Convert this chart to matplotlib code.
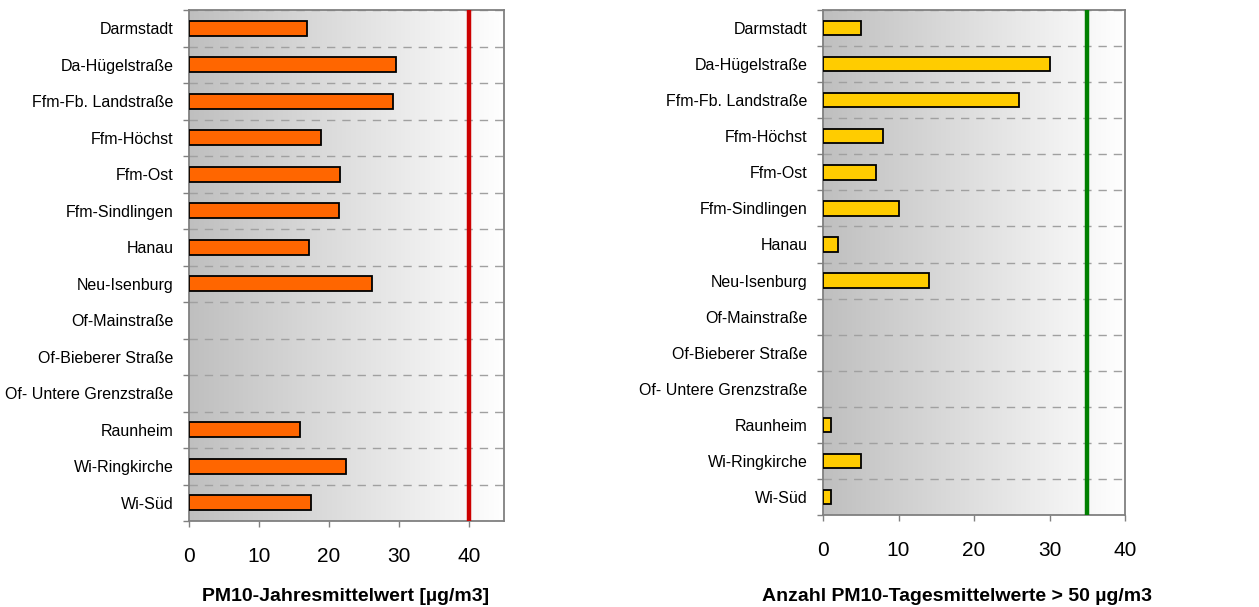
import numpy as np
import matplotlib
matplotlib.use('Agg')
import matplotlib.pyplot as plt
from matplotlib.colors import LinearSegmentedColormap

plt.rcParams['font.family'] = ['Liberation Sans', 'DejaVu Sans']

## Data
stations = ['Darmstadt', 'Da-Hügelstraße', 'Ffm-Fb. Landstraße', 'Ffm-Höchst',
            'Ffm-Ost', 'Ffm-Sindlingen', 'Hanau', 'Neu-Isenburg',
            'Of-Mainstraße', 'Of-Bieberer Straße', 'Of- Untere Grenzstraße',
            'Raunheim', 'Wi-Ringkirche', 'Wi-Süd']
# annual mean PM10 (NaN = no measurement)
annual_mean = [16.9, 29.6, 29.1, 18.9, 21.6, 21.4, 17.2, 26.1,
               np.nan, np.nan, np.nan, 15.9, 22.4, 17.4]
# number of daily means > 50
exceed_days = [5, 30, 26, 8, 7, 10, 2, 14,
               np.nan, np.nan, np.nan, 1, 5, 1]
limit_annual = 40
limit_days = 35

xticks_left = [0, 10, 20, 30, 40]
xticks_right = [0, 10, 20, 30, 40]
xlabel_left = 'PM10-Jahresmittelwert [µg/m3]'
xlabel_right = 'Anzahl PM10-Tagesmittelwerte > 50 µg/m3'

## Figure
W, H = 1259, 607
fig = plt.figure(figsize=(W/100, H/100), dpi=100)
ax1 = fig.add_axes([189/W, 1-521/H, (504-189)/W, (521-10)/H])
ax2 = fig.add_axes([823/W, 1-515/H, (1125-823)/W, (515-10)/H])

grad = LinearSegmentedColormap.from_list('bg', ['#bfbfbf', '#ffffff'])
ypos = np.arange(len(stations))


def draw_panel(ax, vals, color, xmax, limit, lcolor, xticks):
    ax.imshow(np.linspace(0, 1, 256).reshape(1, -1), cmap=grad, aspect='auto',
              extent=[0, xmax, len(stations)-0.5, -0.5], zorder=0)
    arr = np.array(vals, dtype=float)
    mask = ~np.isnan(arr)
    ax.barh(ypos[mask], arr[mask], height=0.4, color=color, edgecolor='black',
            linewidth=1.3, zorder=3)
    ax.axvline(limit, color=lcolor, lw=3.2, zorder=4)
    ax.set_xlim(0, xmax)
    ax.set_ylim(len(stations)-0.5, -0.5)
    ax.set_yticks(ypos)
    ax.set_yticklabels(stations, fontsize=11.5)
    ax.set_yticks(np.arange(len(stations)+1)-0.5, minor=True)
    ax.tick_params(axis='y', which='major', length=0, pad=11)
    ax.tick_params(axis='y', which='minor', length=4, color='#808080', width=1)
    ax.grid(axis='y', which='minor', color='#a0a0a0', linestyle=(0, (6, 5)), lw=1, zorder=1)
    ax.set_xticks(xticks)
    ax.tick_params(axis='x', length=4, color='#808080', width=1, labelsize=15, pad=15)
    for s in ax.spines.values():
        s.set_color('#808080')
        s.set_linewidth(1.3)


draw_panel(ax1, annual_mean, '#ff6600', 45, limit_annual, '#cc0000', xticks_left)
draw_panel(ax2, exceed_days, '#ffcc00', 40, limit_days, '#008000', xticks_right)

fig.text(346/W, 1-601/H, xlabel_left, fontsize=14, fontweight='bold',
         ha='center', va='baseline')
fig.text(957/W, 1-601/H, xlabel_right, fontsize=14, fontweight='bold',
         ha='center', va='baseline')

fig.savefig('out.png', dpi=100)
